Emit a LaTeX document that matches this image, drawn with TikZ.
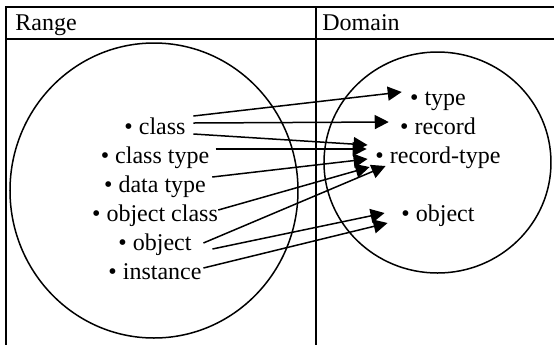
\documentclass[tikz,border=0pt]{standalone}
\usepackage{fontspec}
\setmainfont{Liberation Serif}
\usetikzlibrary{arrows.meta,calc}

\begin{document}
\begin{tikzpicture}[x=0.5pt,y=-0.5pt,
  every node/.style={font=\rmfamily\fontsize{12}{14.4}\selectfont,inner sep=0pt,text height=9pt,text depth=3pt},
  item/.style={anchor=base},
  head/.style={anchor=base west},
  map/.style={-{Triangle[length=7pt,width=7pt]},line width=0.75pt},
  frame/.style={line width=1pt},
  set/.style={line width=0.75pt}
]
  \useasboundingbox (0,0) rectangle (554,345);

  % table rules
  \draw[frame] (554,6.5) -- (6.5,6.5) -- (6.5,345);
  \draw[frame] (6.5,39) -- (554,39);
  \draw[frame] (316.5,6.5) -- (316.5,345);

  \node[head] (range)  at (15,30.5)  {Range};
  \node[head] (domain) at (322,30.5) {Domain};

  % the two sets
  \draw[set] (154,190.5) ellipse [x radius=144, y radius=147.5];
  \draw[set] (437.5,162.5) ellipse [x radius=113.5, y radius=110.5];

  \node[item] (class)     at (155,134) {\textbullet\ class};
  \node[item] (classtype) at (155,163) {\textbullet\ class type};
  \node[item] (datatype)  at (155,192) {\textbullet\ data type};
  \node[item] (objclass)  at (155,221) {\textbullet\ object class};
  \node[item] (object)    at (155,250) {\textbullet\ object};
  \node[item] (instance)  at (155,279) {\textbullet\ instance};

  \node[item] (type)    at (438,105) {\textbullet\ type};
  \node[item] (record)  at (438,134) {\textbullet\ record};
  \node[item] (rectype) at (438,163) {\textbullet\ record-type};
  \node[item] (obj)     at (438,221) {\textbullet\ object};

  \draw[map] ($(class.east)+(7.5,-12)$)   -- ($(type.west)+(-8,-7)$);
  \draw[map] ($(class.east)+(7.5,-5)$)    -- ($(record.west)+(-11,-6)$);
  \draw[map] ($(class.east)+(7.5,6)$)     -- ($(rectype.west)+(-7.5,-12)$);
  \draw[map] ($(classtype.east)+(6,-8)$)  -- ($(rectype.west)+(-8.5,-8)$);
  \draw[map] ($(datatype.east)+(6,-9)$)   -- ($(rectype.west)+(-7.5,2)$);
  \draw[map] ($(objclass.east)+(0,-5)$)   -- ($(rectype.west)+(-5.5,10)$);
  \draw[map] ($(object.east)+(11.5,-1)$)  -- ($(rectype.west)+(10.5,9)$);
  \draw[map] ($(object.east)+(20.5,5)$)   -- ($(obj.west)+(-16.5,-2)$);
  \draw[map] ($(instance.east)+(1.5,-5)$) -- ($(obj.west)+(-13.5,8)$);
\end{tikzpicture}
\end{document}
